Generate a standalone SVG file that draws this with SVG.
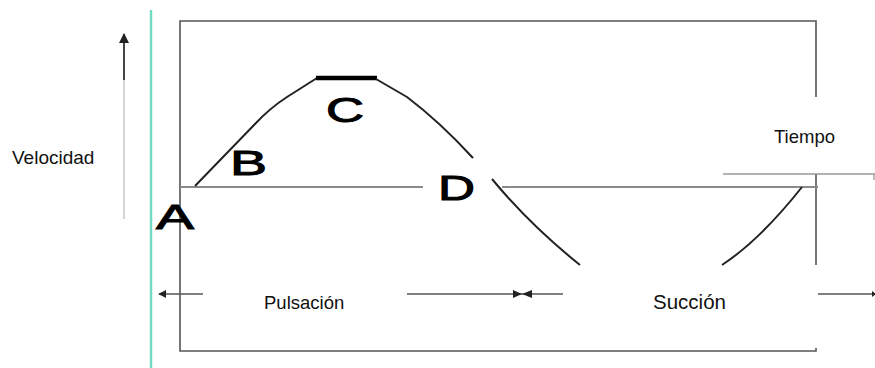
<svg xmlns="http://www.w3.org/2000/svg" width="875" height="368" viewBox="0 0 875 368">
  <style>
    .frame { stroke: #555; stroke-width: 1.6; fill: none; }
    .axis { stroke: #8a8a8a; stroke-width: 2; fill: none; }
    .thin { stroke: #999; stroke-width: 1.3; fill: none; }
    .curve { stroke: #222; stroke-width: 2; fill: none; stroke-linejoin: round; }
    .dim { stroke: #555; stroke-width: 1.4; fill: none; }
    .lbl { font-family: "Liberation Sans", Arial, sans-serif; fill: #111; }
    .big { font-family: "Liberation Sans", Arial, sans-serif; fill: #000; stroke: #000; stroke-width: 1; font-size: 35px; }
  </style>
  <defs>
    <marker id="ah" viewBox="0 0 10 10" refX="9" refY="5" markerWidth="8" markerHeight="8" markerUnits="userSpaceOnUse" orient="auto">
      <path d="M0,0 L10,5 L0,10 z" fill="#222"/>
    </marker>
    <marker id="ahu" viewBox="0 0 10 10" refX="9" refY="5" markerWidth="10" markerHeight="10" markerUnits="userSpaceOnUse" orient="auto">
      <path d="M0,0 L10,5 L0,10 z" fill="#222"/>
    </marker>
  </defs>
  <rect width="875" height="368" fill="#fff"/>

  <!-- cyan vertical line -->
  <line x1="151" y1="10" x2="151" y2="368" stroke="#74dcc2" stroke-width="2.5"/>

  <!-- velocity arrow -->
  <g id="velocity-axis">
    <line x1="124" y1="219" x2="124" y2="80" stroke="#aaa" stroke-width="1"/>
    <line x1="124" y1="80" x2="124" y2="34" stroke="#333" stroke-width="1.8" marker-end="url(#ahu)"/>
    <text class="lbl" x="12" y="164" font-size="19">Velocidad</text>
  </g>

  <!-- frame -->
  <g id="frame">
    <polyline class="frame" points="816,97 816,21 180,21 180,351 816,351 816,348"/>
    <line class="frame" x1="816" y1="174" x2="816" y2="265"/>
  </g>

  <!-- time axis -->
  <g id="time-axis">
    <line class="axis" x1="180" y1="187" x2="423" y2="187"/>
    <line class="axis" x1="502" y1="187" x2="818" y2="187"/>
    <line class="thin" x1="723" y1="174" x2="875" y2="174"/>
    <line class="thin" x1="874" y1="174" x2="874" y2="180"/>
    <text class="lbl" x="774" y="143" font-size="18.5">Tiempo</text>
  </g>

  <!-- wave -->
  <g id="wave">
    <path class="curve" d="M195,186 L255,124 Q270,108 287,97 L317,78"/>
    <line x1="316" y1="78" x2="377" y2="78" stroke="#000" stroke-width="4.5"/>
    <path class="curve" d="M376,79 L407,97 Q440,122 473,158"/>
    <path class="curve" d="M492,179 Q530,225 580,265"/>
    <path class="curve" d="M722,265 Q760,240 802,187"/>
  </g>

  <!-- point labels -->
  <g id="point-labels">
    <text class="big" x="156" y="229" textLength="38" lengthAdjust="spacingAndGlyphs">A</text>
    <text class="big" x="230" y="175" textLength="37" lengthAdjust="spacingAndGlyphs">B</text>
    <text class="big" x="326" y="122" textLength="38" lengthAdjust="spacingAndGlyphs">C</text>
    <text class="big" x="438" y="200" font-size="37" textLength="37" lengthAdjust="spacingAndGlyphs">D</text>
  </g>

  <!-- dimension lines -->
  <g id="connectors">
    <line class="dim" x1="203" y1="294" x2="159" y2="294" marker-end="url(#ah)"/>
    <line class="dim" x1="407" y1="294" x2="563" y2="294"/>
    <path d="M513,290 L522,294 L513,298 z M532,290 L522,294 L532,298 z" fill="#222"/>
    <line class="dim" x1="818" y1="294" x2="875" y2="294"/>
    <path d="M872,291 L876,294 L872,297 z" fill="#222"/>
  </g>

  <g id="phase-labels">
    <text class="lbl" x="264" y="309" font-size="18.5">Pulsación</text>
    <text class="lbl" x="653" y="309" font-size="20.5">Succión</text>
  </g>
</svg>
